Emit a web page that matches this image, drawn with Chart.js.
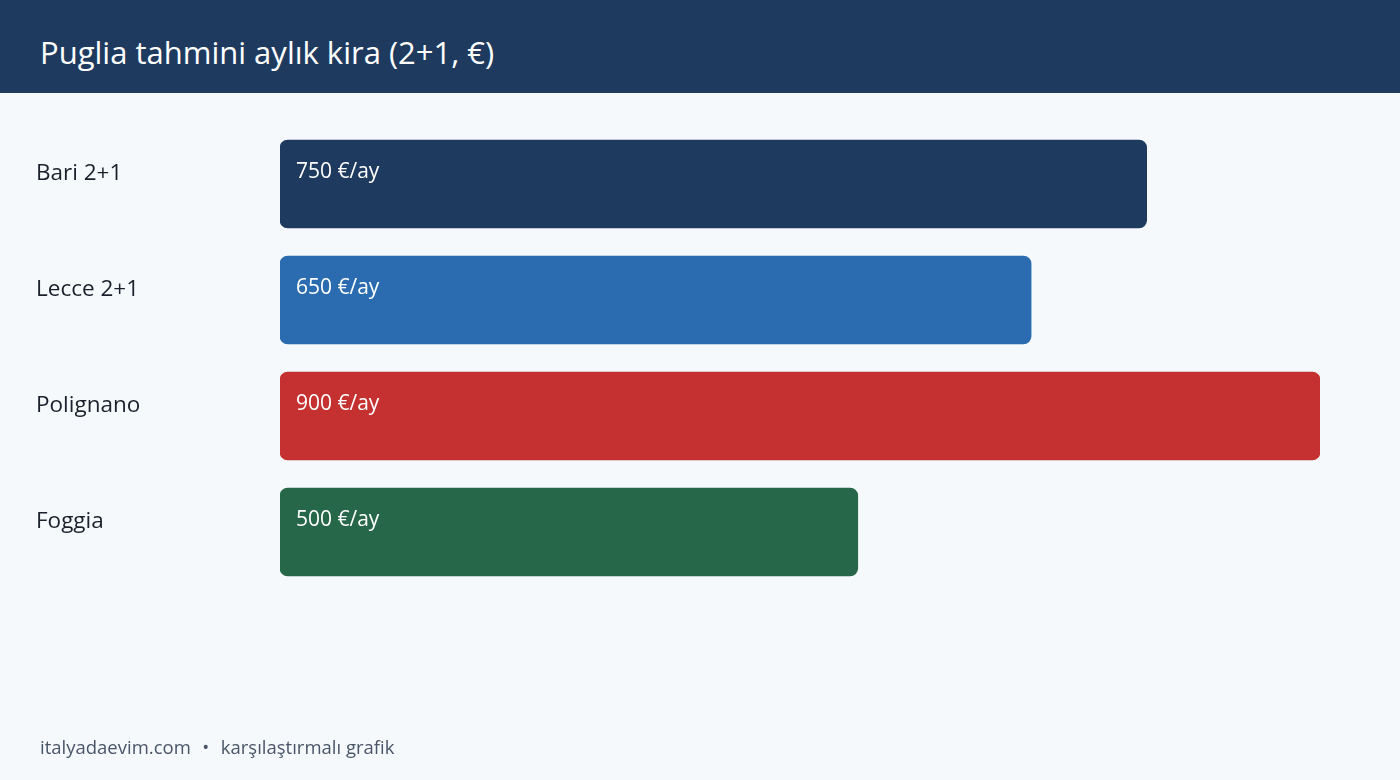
<!DOCTYPE html>
<html><head><meta charset="utf-8">
<script src="https://cdn.jsdelivr.net/npm/chart.js@4"></script>
<style>
html,body{margin:0;padding:0;background:#f5f9fc;width:1400px;height:780px;overflow:hidden;font-family:"Open Sans",sans-serif;}
#hdr{position:absolute;left:0;top:0;width:1400px;height:93px;background:#1f3a5f;}
#ttl{position:absolute;left:40px;top:31px;color:#fff;font-size:31px;line-height:42px;white-space:nowrap;}
#ftr{position:absolute;left:40px;top:735px;color:#4a5568;font-size:18.5px;line-height:24px;white-space:nowrap;}
#ftr .dot{display:inline-block;width:30px;text-align:center;}
#wrap{position:absolute;left:0;top:0;width:1400px;height:780px;}
</style></head>
<body>
<div id="hdr"></div>
<div id="ttl">Puglia tahmini aylık kira (2+1, €)</div>
<div id="wrap"><canvas id="c"></canvas></div>
<div id="ftr">italyadaevim.com<span class="dot">•</span>karşılaştırmalı grafik</div>
<script>
const categories = ["Bari 2+1", "Lecce 2+1", "Polignano", "Foggia"];
const rents = [750, 650, 900, 500];
const barColors = ["#1f3a5f", "#2b6cb0", "#c53030", "#276749"];
const unit = " €/ay";

const valueLabels = {
  id: "valueLabels",
  afterDatasetsDraw(chart) {
    const ctx = chart.ctx;
    const meta = chart.getDatasetMeta(0);
    ctx.save();
    ctx.font = '21px "Open Sans", sans-serif';
    ctx.fillStyle = "#ffffff";
    ctx.textAlign = "left";
    ctx.textBaseline = "middle";
    meta.data.forEach((bar, i) => {
      const top = bar.y - bar.height / 2;
      ctx.fillText(rents[i] + unit, bar.base + 16, top + 32);
    });
    ctx.restore();
  }
};

new Chart(document.getElementById("c"), {
  type: "bar",
  data: {
    labels: categories.map(c => [c, ""]),
    datasets: [{
      data: rents,
      backgroundColor: barColors,
      borderRadius: 8,
      borderSkipped: false,
      barThickness: 88
    }]
  },
  options: {
    indexAxis: "y",
    responsive: true,
    maintainAspectRatio: false,
    animation: false,
    layout: { padding: { left: 36, right: 80, top: 126, bottom: 190 } },
    plugins: { legend: { display: false }, tooltip: { enabled: false } },
    scales: {
      x: { display: false, min: 0, max: 900 },
      y: {
        grid: { display: false },
        border: { display: false },
        afterFit(scale) { scale.width = 244; },
        ticks: {
          crossAlign: "far",
          color: "#1a202c",
          font: { family: '"Open Sans", sans-serif', size: 22.5, lineHeight: "21px" },
          padding: 0
        }
      }
    }
  },
  plugins: [valueLabels]
});
</script>
</body></html>
